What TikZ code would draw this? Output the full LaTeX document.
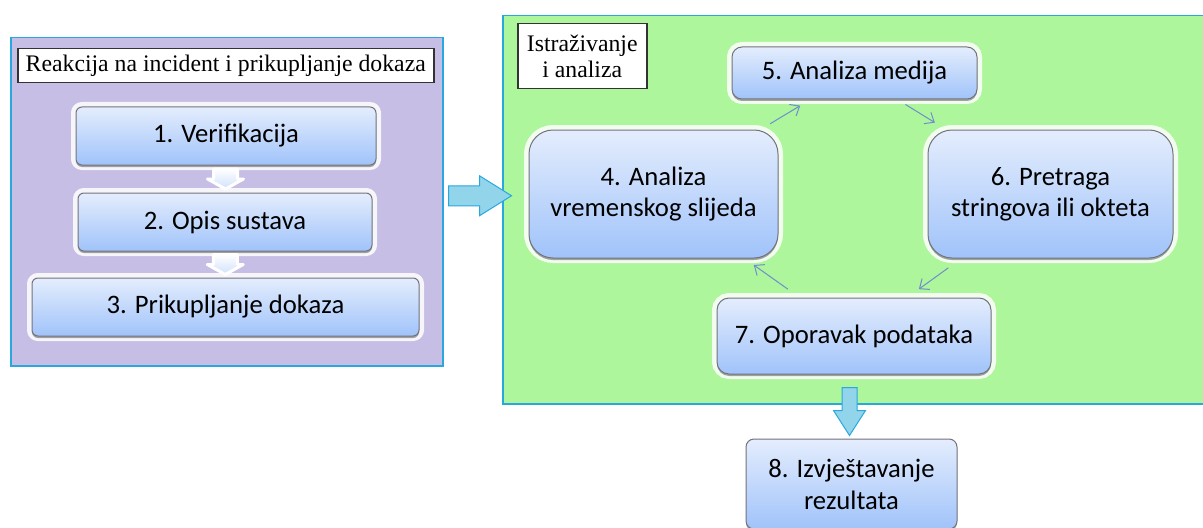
\documentclass[tikz,border=0pt]{standalone}
\usepackage{fontspec}
\setmainfont{Carlito}
\newfontfamily\captfont{Liberation Serif}
\usetikzlibrary{positioning,calc,shadows,arrows.meta}

\definecolor{lavfill}{RGB}{198,190,228}
\definecolor{grnfill}{RGB}{174,246,156}
\definecolor{panline}{RGB}{40,168,222}
\definecolor{boxtop}{RGB}{228,237,253}
\definecolor{boxbot}{RGB}{160,195,250}
\definecolor{boxline}{RGB}{115,115,125}
\definecolor{cyclearr}{RGB}{110,142,205}
\definecolor{blkfill}{RGB}{146,212,234}
\newcommand{\px}{0.75pt}

\begin{document}
\begin{tikzpicture}[x=\px,y=-\px,
	panel/.style={draw=panline,line width=1.5*\px,inner sep=0pt},
	captbox/.style={draw=black!80,fill=white,line width=1.5*\px,inner sep=0pt,align=center,
		font=\captfont\fontsize{17.8}{20}\selectfont},
	stepbox/.style={draw=boxline,line width=\px,top color=boxtop,bottom color=boxbot,
		preaction={draw=white,line width=10*\px,opacity=.85},
		drop shadow={shadow xshift=0pt,shadow yshift=-1.5pt,opacity=.35,fill=black},
		inner sep=0pt,align=center,font=\fontsize{20}{23}\selectfont},
	blockarrow/.style={draw=panline,fill=blkfill,line width=\px,line join=miter},
	smallarrow/.style={draw=white,line width=3*\px,line join=round,
		top color=white,bottom color=boxtop!70!boxbot},
	cyclearrow/.style={draw=cyclearr,line width=\px,-{Straight Barb[length=6pt,width=10pt]}}]
	\clip (0,0) rectangle (1203,528);

	%panels
	\node[panel,fill=lavfill,anchor=north west,minimum width=432*\px,minimum height=328*\px] (react) at (10,37) {};
	\node[panel,fill=grnfill,anchor=north west,minimum width=710*\px,minimum height=388*\px] (inv) at (502,15) {};
	\node[captbox,anchor=north west,minimum width=416*\px,minimum height=34*\px] (capt1) at (17,48) {Reakcija na incident i prikupljanje dokaza};
	\node[captbox,anchor=north west,minimum width=129*\px,minimum height=65*\px] (capt2) at (517,23) {Istraživanje\\i analiza};

	%first phase
	\node[stepbox,rounded corners=6*\px,minimum width=300*\px,minimum height=58*\px] (n1) at (226,136) {1. Verifikacija};
	\node[stepbox,rounded corners=6*\px,minimum width=294*\px,minimum height=58*\px] (n2) at (225,222) {2. Opis sustava};
	\node[stepbox,rounded corners=6*\px,minimum width=387*\px,minimum height=58*\px] (n3) at (225.5,307) {3. Prikupljanje dokaza};
	\foreach \a/\b in {n1/n2,n2/n3}{
		\coordinate (s) at ($(\a.south)!.5!(\b.north)$);
		\draw[smallarrow] (s) ++(-12,-10) -- ++(24,0) -- ++(0,10) -- ++(6,0) -- ++(-18,10) -- ++(-18,-10) -- ++(6,0) -- cycle;
	}

	%second phase
	\node[stepbox,rounded corners=24*\px,minimum width=249*\px,minimum height=128*\px] (n4) at (653.5,194) {4. Analiza\\vremenskog slijeda};
	\node[stepbox,rounded corners=10*\px,minimum width=245*\px,minimum height=52*\px] (n5) at (854.5,73) {5. Analiza medija};
	\node[stepbox,rounded corners=24*\px,minimum width=245*\px,minimum height=128*\px] (n6) at (1050.5,194) {6. Pretraga\\stringova ili okteta};
	\node[stepbox,rounded corners=12*\px,minimum width=274*\px,minimum height=76*\px] (n7) at (854,336) {7. Oporavak podataka};
	\node[stepbox,rounded corners=8*\px,minimum width=211*\px,minimum height=90*\px,font=\fontsize{20}{24}\selectfont] (n8) at (851.5,484) {8. Izvještavanje\\rezultata};

	%cycle arrows
	\foreach \a/\b/\s/\e in {n4/n5/.58/.73,n5/n6/.26/.41,n6/n7/.52/.67,n7/n4/.33/.50}{
		\draw[cyclearrow] ($(\a)!\s!(\b)$) -- ($(\a)!\e!(\b)$);
	}

	%block arrows
	\coordinate (a3) at ($(react.east)+(5,-6)$);
	\draw[blockarrow] (a3) ++(0,-10) -- ++(31,0) -- ++(0,-10) -- ++(32,20) -- ++(-32,20) -- ++(0,-10) -- ++(-31,0) -- cycle;
	\coordinate (a7) at ($(n7.south)+(-4.5,13)$);
	\draw[blockarrow] (a7) ++(-7.5,0) -- ++(15,0) -- ++(0,23) -- ++(8.5,0) -- ++(-16,25) -- ++(-16,-25) -- ++(8.5,0) -- cycle;
\end{tikzpicture}
\end{document}
